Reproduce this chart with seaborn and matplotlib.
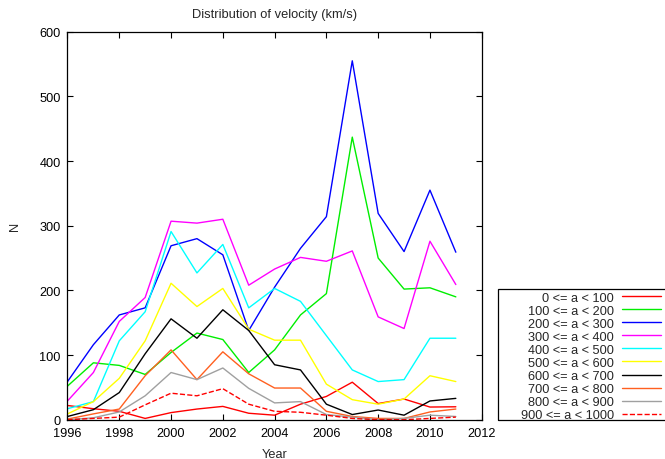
import matplotlib
matplotlib.use("Agg")
import matplotlib.pyplot as plt
import matplotlib.patches as mpatches
import seaborn as sns
import numpy as np

years = list(range(1996, 2012))

labels = ["0 <= a < 100", "100 <= a < 200", "200 <= a < 300", "300 <= a < 400",
          "400 <= a < 500", "500 <= a < 600", "600 <= a < 700", "700 <= a < 800",
          "800 <= a < 900", "900 <= a < 1000"]

r0 = [22, 17, 13, 2, 11, 16.5, 20.6, 10, 7, 24, 36, 58, 25, 32, 19.6, 20]
r1 = [52, 88, 84, 70, 104, 134, 124, 73, 108, 162, 195, 437, 250, 202, 204, 190]
r2 = [59, 116, 162, 173, 269, 280, 255, 138, 205, 265, 314, 555, 319, 260, 355, 259]
r3 = [29, 73, 152, 189, 307, 304, 310, 208, 233, 251, 245, 261, 159, 141, 276, 209]
r4 = [17, 28, 122, 167, 291, 227, 271, 173, 203, 183, 130, 77, 59, 62, 126, 126]
r5 = [9, 28, 64, 122, 211, 175, 203, 140, 123, 123, 55, 31, 24, 32, 68, 59]
r6 = [5, 15.5, 42, 102, 156, 126, 170, 138, 85, 77, 24, 8, 15, 7, 29, 33]
r7 = [1, 9, 16.5, 68, 108, 62, 105, 71, 49, 49, 13, 5, 2, 2, 12, 16.5]
r8 = [0, 3, 12, 37, 73, 62, 80, 48.5, 26, 28, 8, 4, 0, 2, 7, 5]
r9 = [0, 2, 4, 23, 41, 37, 48, 24, 13, 11.5, 7, 2, 0, 0, 2, 4]

series = [r0, r1, r2, r3, r4, r5, r6, r7, r8, r9]
colors = ["#ff0000", "#00ee00", "#0000ff", "#ff00ff", "#00ffff",
          "#ffff00", "#000000", "#ff6020", "#a0a0a0", "#ff0000"]
styles = ["-"] * 9 + ["--"]

sns.set_theme(style="ticks")
plt.rcParams["font.family"] = ["Liberation Sans", "DejaVu Sans"]

W, H = 665, 460
FS = 9.2

fig = plt.figure(figsize=(6.65, 4.6), dpi=100)
ax = fig.add_axes([0.1015, 0.0854, 0.6229, 0.8435])

for vals, lab, c, ls in zip(series, labels, colors, styles):
    sns.lineplot(x=years, y=vals, color=c, linestyle=ls, linewidth=1.0,
                 label=lab, ax=ax, legend=False)

ax.set_xlim(1996, 2012)
ax.set_ylim(0, 600)
ax.set_xticks(range(1996, 2013, 2))
ax.set_yticks(range(0, 601, 100))
ax.tick_params(direction="in", length=4, width=0.8, top=True, right=True,
               labelsize=FS, colors="black", pad=5)
for s in ax.spines.values():
    s.set_linewidth(0.9)
    s.set_color("black")

ax.set_title("Distribution of velocity (km/s)", fontsize=FS + 0.1, pad=10.5)
ax.set_xlabel("Year", fontsize=FS, labelpad=7)
ax.set_ylabel("N", fontsize=FS, labelpad=13)

handles, labs = ax.get_legend_handles_labels()
leg = ax.legend(handles, labs, loc="upper right",
                bbox_to_anchor=(660.7 / W, 1 - 292.5 / H),
                bbox_transform=fig.transFigure,
                markerfirst=False, fontsize=FS, frameon=False,
                borderaxespad=0, handlelength=3.0, handletextpad=0.68,
                labelspacing=0.085, borderpad=0)

rect = mpatches.Rectangle((497.7 / W, 1 - 421 / H), (680 - 497.7) / W,
                          (421 - 290) / H, transform=fig.transFigure,
                          fill=False, edgecolor="black", linewidth=0.9,
                          clip_on=False)
fig.add_artist(rect)

fig.savefig("out.png", dpi=100)
